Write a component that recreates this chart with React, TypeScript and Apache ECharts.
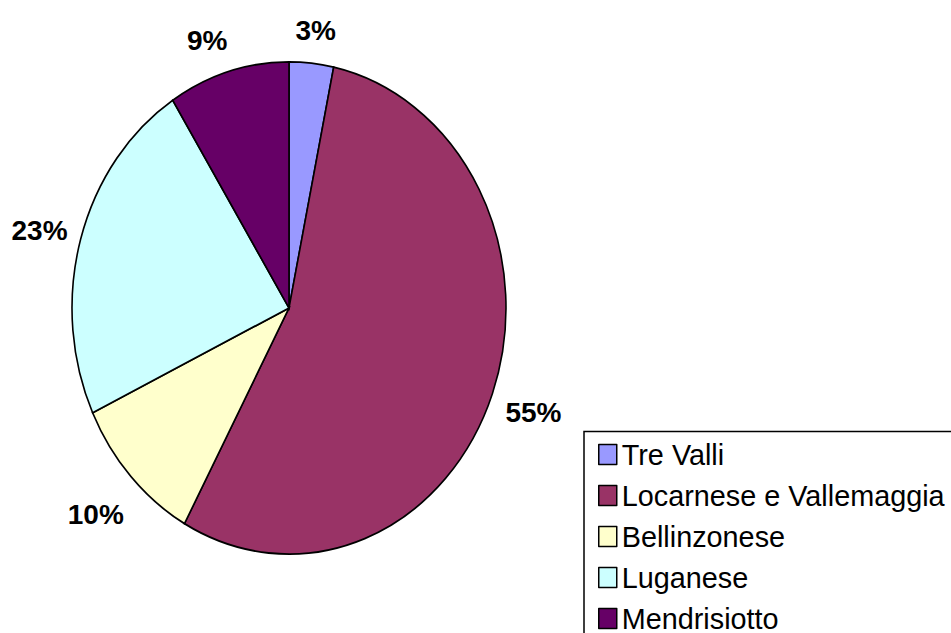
import React, { useEffect, useRef } from 'react';
import * as echarts from 'echarts';

const categories = ['Tre Valli', 'Locarnese e Vallemaggia', 'Bellinzonese', 'Luganese', 'Mendrisiotto'];
const values = [3.3, 54.7, 10, 23, 9];
const colors = ['#9999FF', '#993366', '#FFFFCC', '#CCFFFF', '#660066'];

const FONT = '"Liberation Sans", Arial, Helvetica, sans-serif';

export default function App() {
  const ref = useRef<HTMLDivElement>(null);

  useEffect(() => {
    const chart = echarts.init(ref.current!, null, { renderer: 'svg' });
    const total = values.reduce((a, b) => a + b, 0);
    const cx = 289;
    const cy = 308;
    const r = 217;
    const sy = 246 / 217;

    chart.setOption({
      animation: false,
      color: colors,
      legend: {
        orient: 'vertical',
        left: 598,
        top: 434,
        width: 350,
        height: 230,
        padding: 0,
        itemGap: 0,
        itemWidth: 18,
        itemHeight: 20,
        icon: 'rect',
        selectedMode: false,
        itemStyle: { borderColor: '#000', borderWidth: 1.5 },
        textStyle: { fontFamily: FONT, fontSize: 28.8, color: '#000', lineHeight: 41 },
        data: categories,
      },
      graphic: [
        {
          type: 'rect',
          shape: { x: 584, y: 431.5, width: 420, height: 300 },
          style: { fill: 'none', stroke: '#000', lineWidth: 1.5 },
          silent: true,
        },
      ],
      series: [
        {
          type: 'pie',
          center: [-300, -300],
          radius: 10,
          silent: true,
          label: { show: false },
          labelLine: { show: false },
          itemStyle: { borderColor: '#000', borderWidth: 1.5 },
          data: categories.map((name, i) => ({ name, value: values[i], itemStyle: { color: colors[i] } })),
        },
        {
          type: 'custom',
          coordinateSystem: 'none',
          silent: true,
          data: values.map((v, i) => [v, i]),
          renderItem: (params: any, api: any) => {
            const i = params.dataIndex;
            const v = api.value(0);
            let before = 0;
            for (let k = 0; k < i; k++) before += values[k];
            const a0 = -Math.PI / 2 + (2 * Math.PI * before) / total;
            const a1 = -Math.PI / 2 + (2 * Math.PI * (before + v)) / total;
            const am = (a0 + a1) / 2;
            const dx = Math.cos(am);
            const dy = Math.sin(am);
            const ex = cx + r * dx;
            const ey = cy + r * sy * dy;
            const pct = Math.round((v / total) * 100);
            const txt = pct + '%';
            const w = 28 * (0.556 * String(pct).length + 0.889);
            const h = dy > 0 ? 70 : 26;
            const g = 20;
            const lx = ex + dx * g + (dx * w) / 2 + (dx < 0 && dy < 0 && Math.abs(dy) > 0.9 ? -10 : 0) + (dx < -0.9 ? 5 : 0) + (dx > 0.9 ? -4 : 0);
            const ly = ey + dy * g + (dy * h) / 2;
            return {
              type: 'group',
              children: [
                {
                  type: 'sector',
                  x: cx,
                  y: cy,
                  scaleY: sy,
                  shape: { cx: 0, cy: 0, r0: 0, r, startAngle: a0, endAngle: a1, clockwise: true },
                  style: { fill: colors[i], stroke: '#000', lineWidth: 1.6, strokeNoScale: true },
                },
                {
                  type: 'text',
                  x: lx,
                  y: ly,
                  style: {
                    text: txt,
                    fontFamily: FONT,
                    fontSize: 28,
                    fontWeight: 'bold',
                    fill: '#000',
                    align: 'center',
                    verticalAlign: 'middle',
                  },
                },
              ],
            };
          },
        },
      ],
    });
    return () => chart.dispose();
  }, []);

  return (
    <div
      ref={ref}
      style={{ position: 'absolute', left: 0, top: 0, width: 951, height: 633, background: '#fff' }}
    />
  );
}
